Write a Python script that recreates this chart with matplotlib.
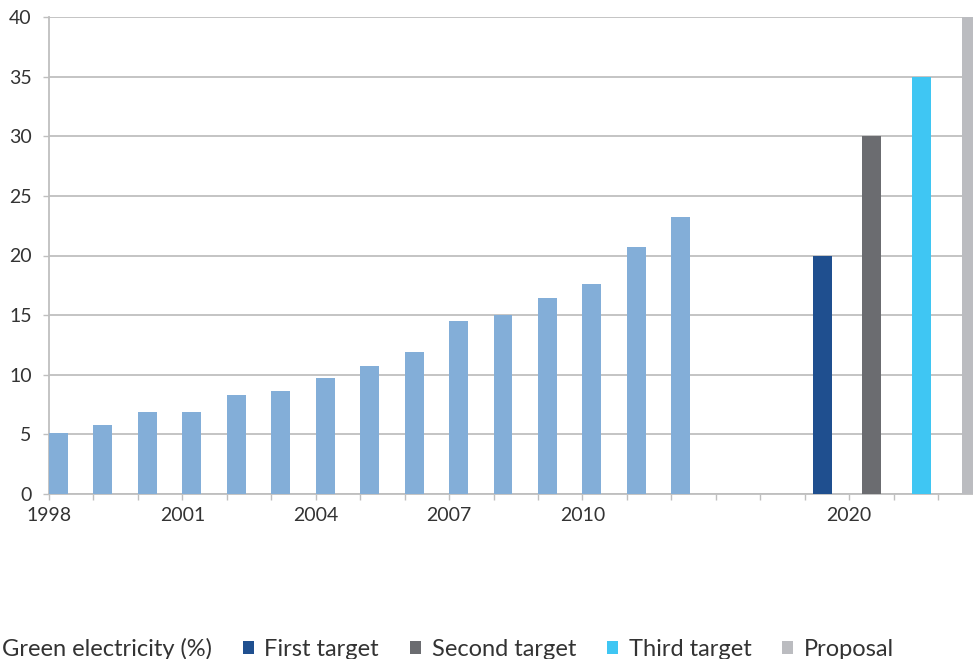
import numpy as np
import matplotlib
matplotlib.use("Agg")
import matplotlib.pyplot as plt

plt.rcParams['font.family'] = ['Lato', 'DejaVu Sans']

# ---- data ----
categories = [str(y) for y in range(1998, 2013)] + ['', '', '', '2020', '', '']
green = [5.1, 5.8, 6.9, 6.9, 8.3, 8.6, 9.7, 10.7, 11.9, 14.5, 15.0, 16.4, 17.6, 20.7, 23.2]
target_names = ["First target", "Second target", "Third target", "Proposal"]
target_values = [20, 30, 35, 40]
target_categories = [17, 18, 19, 20]
series_names = ["Green electricity (%)"] + target_names
yticks = [0, 5, 10, 15, 20, 25, 30, 35, 40]
label_every = 3

# ---- build series over all categories ----
n = len(categories)
series = []
g = np.full(n, np.nan)
g[:len(green)] = green
series.append(g)
for ci, v in zip(target_categories, target_values):
    s = np.full(n, np.nan)
    s[ci] = v
    series.append(s)

colors = ['#83AED8', '#1F4F8F', '#6B6C70', '#3FC6F3', '#BBBCC0']
offsets = [0.0, 0.18, 0.30, 0.42, 0.547]
bar_w = 0.427

W, H = 973, 659
fig = plt.figure(figsize=(W / 100, H / 100), dpi=100)
cat_px = 44.45
ax = fig.add_axes([49 / W, (H - 494) / H, n * cat_px / W, 477 / H])

x = np.arange(n)
handles = []
for s, vals, col, name in zip(range(len(series)), series, colors, series_names):
    b = ax.bar(x + offsets[s], np.nan_to_num(vals), width=bar_w, align='edge',
               color=col, label=name, zorder=3, linewidth=0)
    handles.append(b)

ax.set_xlim(0, n)
ax.set_ylim(0, 40)
ax.set_yticks(yticks)
ax.set_xticks(x)
ax.set_xticklabels([c if i % label_every == 0 else '' for i, c in enumerate(categories)])

grid_col = '#BFBFBF'
ax.yaxis.grid(True, color=grid_col, linewidth=1.3, zorder=0)
ax.set_axisbelow(True)
for sp in ['top', 'right']:
    ax.spines[sp].set_visible(False)
ax.spines['left'].set_color(grid_col)
ax.spines['bottom'].set_color(grid_col)
ax.spines['left'].set_linewidth(1.3)
ax.spines['bottom'].set_linewidth(1.3)
ax.tick_params(axis='both', colors=grid_col, length=4.5, width=1.0,
               labelcolor='#333333', labelsize=14)
ax.tick_params(axis='y', pad=8)
ax.tick_params(axis='x', pad=5)

fig.legend(handles=handles, labels=series_names, ncol=5, loc='center left',
           bbox_to_anchor=(-20 / W, (H - 649) / H), frameon=False,
           fontsize=17, handlelength=0.46, handleheight=0.46,
           handletextpad=0.46, columnspacing=1.31, borderaxespad=0, borderpad=0,
           labelcolor='#333333')

fig.savefig('out.png', dpi=100)
